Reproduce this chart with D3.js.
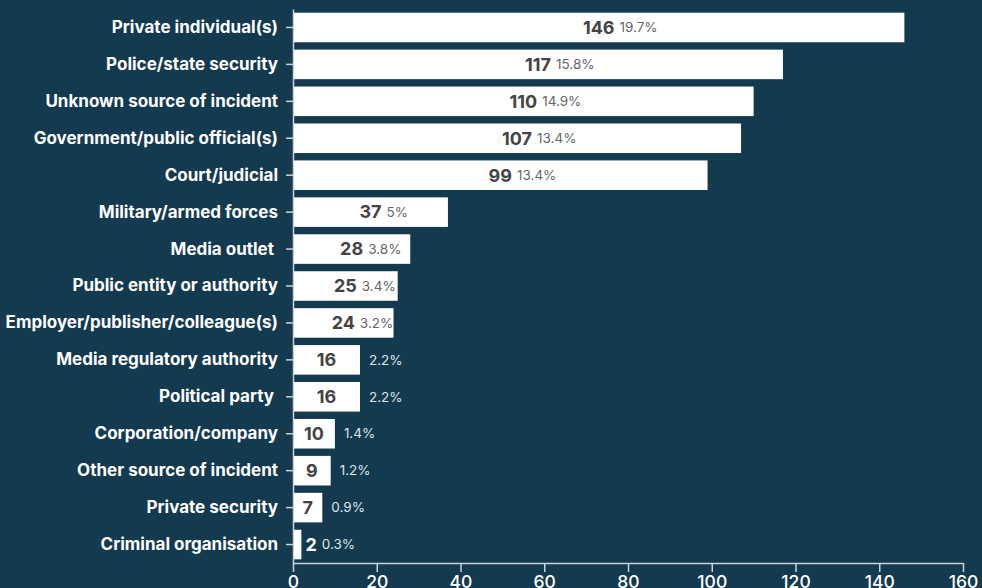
<!DOCTYPE html>
<html><head><meta charset="utf-8">
<script src="https://cdn.jsdelivr.net/npm/d3@7"></script>
<style>
html,body{margin:0;padding:0;background:#133a4f;}
svg{display:block;font-family:"Inter", "Noto Sans", sans-serif;}
</style></head>
<body><svg id="c" width="982" height="588"></svg>
<script>
const categories = ["Private individual(s)","Police/state security","Unknown source of incident","Government/public official(s)","Court/judicial","Military/armed forces","Media outlet ","Public entity or authority","Employer/publisher/colleague(s)","Media regulatory authority","Political party ","Corporation/company","Other source of incident","Private security","Criminal organisation"];
const counts = [146,117,110,107,99,37,28,25,24,16,16,10,9,7,2];
const percents = ["19.7%","15.8%","14.9%","13.4%","13.4%","5%","3.8%","3.4%","3.2%","2.2%","2.2%","1.4%","1.2%","0.9%","0.3%"];
const xTicks = [0,20,40,60,80,100,120,140,160];

const svg = d3.select("#c");
const x = d3.scaleLinear().domain([0,160]).range([293,963]);
const y = d3.scaleBand().domain(categories).range([9,563]).paddingInner(0.2).paddingOuter(0.1);

const axisColor = "#c9d3d9";
const gx = svg.append("g").attr("transform","translate(0,563)")
  .call(d3.axisBottom(x).tickValues(xTicks).tickSize(9).tickSizeOuter(0).tickPadding(3));
gx.selectAll("path,line").attr("stroke",axisColor).attr("stroke-width",1.5);
gx.selectAll("text").attr("fill","#fff").style("font-family","Inter").style("font-size","17.5px").style("font-weight","500").attr("dy","0.75em");

const gy = svg.append("g").attr("transform","translate(293,0)")
  .call(d3.axisLeft(y).tickSize(7).tickSizeOuter(0).tickPadding(8));
gy.selectAll("path,line").attr("stroke",axisColor).attr("stroke-width",1.5);
gy.selectAll("text").attr("fill","#fff").style("font-family","Inter").style("font-size","17px").style("font-weight","700").style("white-space","pre");

const data = categories.map((c,i)=>({c, v:counts[i], p:percents[i]}));
const bars = svg.append("g").selectAll("g").data(data).join("g");
bars.append("rect")
  .attr("x", x(0)+1).attr("y", d=>y(d.c))
  .attr("width", d=>x(d.v)-x(0)-1).attr("height", y.bandwidth())
  .attr("fill","#fff");

bars.each(function(d){
  const g = d3.select(this);
  const cy = y(d.c)+y.bandwidth()/2;
  const barEnd = x(d.v);
  const mid = (x(0)+barEnd)/2;
  const vt = g.append("text").attr("y",cy).attr("dy","0.35em")
    .style("font-family","Inter").style("font-size","18px").style("font-weight","700").text(d.v);
  const vw = vt.node().getComputedTextLength();
  let vx = mid - vw/2;
  let inside = true;
  if (vx < x(0)+4 || vx+vw > barEnd-2) { vx = Math.max(vx, barEnd+4); inside = (vx+vw <= barEnd); }
  vt.attr("x",vx).attr("fill", inside ? "#444" : "#fff");
  const pt = g.append("text").attr("y",cy).attr("dy","0.35em")
    .style("font-family","Inter").style("font-size","13.5px").style("font-weight","400").text(d.p);
  const pw = pt.node().getComputedTextLength();
  let px = vx + vw + 5;
  let pin = true;
  if (!inside) { pin = false; }
  else if (px + pw > barEnd + 3) { px = barEnd + 9; pin = false; }
  pt.attr("x",px).attr("fill", pin ? "#666" : "#dde4e8");
});
</script></body></html>
